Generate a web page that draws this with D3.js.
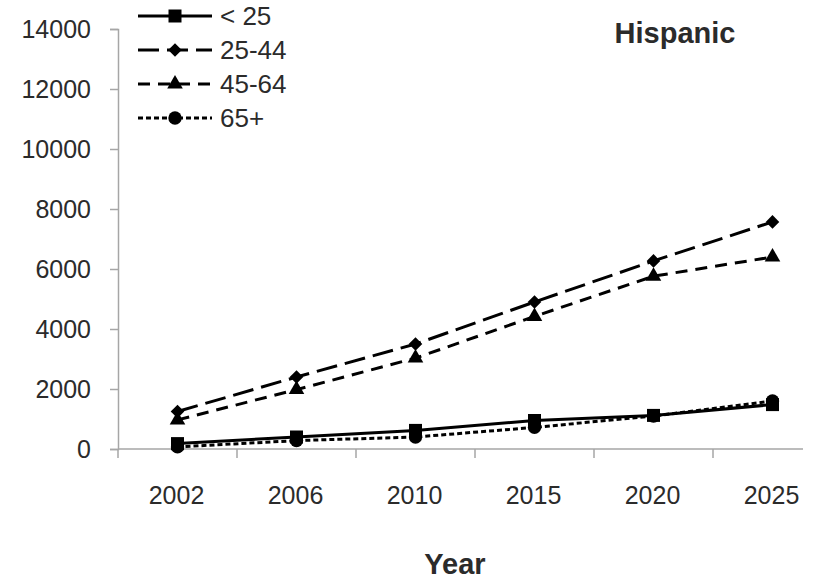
<!DOCTYPE html>
<html>
<head>
<meta charset="utf-8">
<script src="https://cdn.jsdelivr.net/npm/d3@7"></script>
<style>
  body { margin: 0; background: #fff; }
  text { font-family: "Liberation Sans", Arial, sans-serif; fill: #2b2b2b; }
</style>
</head>
<body>
<div id="chart"></div>
<script>
// Data
const years = ["2002", "2006", "2010", "2015", "2020", "2025"];
const under25 = [180, 400, 620, 950, 1120, 1480];
const age25to44 = [1250, 2400, 3500, 4900, 6270, 7570];
const age45to64 = [970, 1980, 3030, 4420, 5760, 6400];
const age65plus = [70, 280, 400, 720, 1100, 1600];
const yTicks = [0, 2000, 4000, 6000, 8000, 10000, 12000, 14000];

const series = [
    { name: "< 25", values: under25, dash: null, symbol: "square" },
    { name: "25-44", values: age25to44, dash: "21,8", symbol: "diamond" },
    { name: "45-64", values: age45to64, dash: "12,8", symbol: "triangle" },
    { name: "65+", values: age65plus, dash: "5,3", symbol: "circle" }
];

const width = 819, height = 580;
const margin = { top: 29, left: 118, bottom: 449 };

const svg = d3.select("#chart")
    .append("svg")
    .attr("width", width)
    .attr("height", height);

// Scales
const x = d3.scaleBand()
    .domain(years)
    .range([margin.left, margin.left + 119 * years.length]);

const y = d3.scaleLinear()
    .domain([0, 14000])
    .range([margin.bottom, margin.top]);

const axisColor = "#a6a6a6";

// Y axis
const yAxis = svg.append("g")
    .attr("transform", `translate(${margin.left},0)`)
    .call(d3.axisLeft(y).tickValues(yTicks).tickSize(8).tickPadding(19).tickFormat(d3.format("d")));
yAxis.select(".domain").attr("stroke", axisColor).attr("stroke-width", 1.5);
yAxis.selectAll(".tick line").attr("stroke", axisColor).attr("stroke-width", 1.5);
yAxis.selectAll(".tick text").attr("font-size", 25).attr("fill", "#2b2b2b")
    .attr("font-family", "'Liberation Sans', Arial, sans-serif");

// X axis (line stops short of the last band edge, as in the picture)
const xAxis = svg.append("g").attr("class", "x-axis");
xAxis.append("line")
    .attr("x1", margin.left).attr("x2", 803)
    .attr("y1", y(0)).attr("y2", y(0))
    .attr("stroke", axisColor).attr("stroke-width", 1.5);
xAxis.selectAll("line.tick")
    .data(years)
    .join("line")
    .attr("class", "tick")
    .attr("x1", d => x(d)).attr("x2", d => x(d))
    .attr("y1", y(0)).attr("y2", y(0) + 9)
    .attr("stroke", axisColor).attr("stroke-width", 1.5);
xAxis.selectAll("text")
    .data(years)
    .join("text")
    .attr("x", d => x(d) + x.bandwidth() / 2 - 1)
    .attr("y", 504)
    .attr("text-anchor", "middle")
    .attr("font-size", 25)
    .text(d => d);

svg.append("text")
    .attr("x", 455)
    .attr("y", 574)
    .attr("text-anchor", "middle")
    .attr("font-size", 29)
    .attr("font-weight", "bold")
    .text("Year");

svg.append("text")
    .attr("x", 675)
    .attr("y", 43)
    .attr("text-anchor", "middle")
    .attr("font-size", 29)
    .attr("font-weight", "bold")
    .text("Hispanic");

// Markers
function marker(sel, type) {
    if (type === "square") sel.attr("d", d3.symbol(d3.symbolSquare, 169)());
    else if (type === "diamond") sel.attr("d", d3.symbol(d3.symbolSquare, 92)());
    else if (type === "triangle") sel.attr("d", d3.symbol(d3.symbolTriangle, 105)());
    else sel.attr("d", d3.symbol(d3.symbolCircle, 140)());
}

const line = d3.line()
    .x((d, i) => x(years[i]) + x.bandwidth() / 2)
    .y(d => y(d));

series.forEach(s => {
    const g = svg.append("g");
    g.append("path")
        .datum(s.values)
        .attr("fill", "none")
        .attr("stroke", "#000")
        .attr("stroke-width", 3)
        .attr("stroke-dasharray", s.dash)
        .attr("d", line);
    g.selectAll("path.pt")
        .data(s.values)
        .join("path")
        .attr("class", "pt")
        .attr("fill", "#000")
        .call(marker, s.symbol)
        .attr("transform", (d, i) => `translate(${x(years[i]) + x.bandwidth() / 2},${y(d)})` + (s.symbol === "diamond" ? " rotate(45)" : ""));
});

// Legend
const legend = svg.append("g");
series.forEach((s, i) => {
    const ly = 16 + i * 34;
    legend.append("line")
        .attr("x1", 138).attr("x2", 212)
        .attr("y1", ly).attr("y2", ly)
        .attr("stroke", "#000")
        .attr("stroke-width", 3)
        .attr("stroke-dasharray", s.dash);
    legend.append("path")
        .attr("fill", "#000")
        .call(marker, s.symbol)
        .attr("transform", `translate(175,${ly})` + (s.symbol === "diamond" ? " rotate(45)" : ""));
    legend.append("text")
        .attr("x", 220)
        .attr("y", ly)
        .attr("dy", "0.35em")
        .attr("font-size", 26)
        .text(s.name);
});
</script>
</body>
</html>
